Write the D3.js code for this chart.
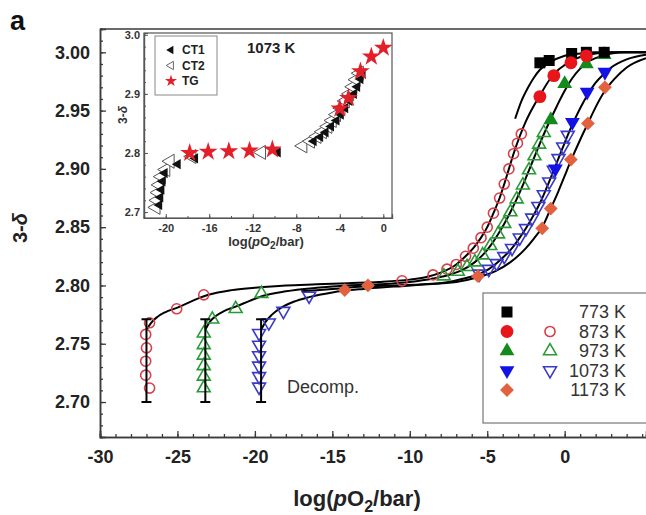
<!DOCTYPE html>
<html><head><meta charset="utf-8">
<script src="https://cdn.jsdelivr.net/npm/d3@7"></script>
<style>body{margin:0;background:#fff}svg{display:block}text{font-family:"Liberation Sans",Arial,sans-serif}</style>
</head><body><svg id="c" width="646" height="515"></svg>
<script>
// ---------- tick labels ----------
const xTicks = [-30,-25,-20,-15,-10,-5,0];
const yTicks = [2.70,2.75,2.80,2.85,2.90,2.95,3.00];
const insetXTicks = [-20,-16,-12,-8,-4,0];
const insetYTicks = [2.7,2.8,2.9,3.0];
const legendLabels = ["773 K","873 K","973 K","1073 K","1173 K"];

// ---------- main data ----------
// 773 K filled squares
const sq773X = [-1.6,-1.0,0.45,1.4,2.55];
const sq773Y = [2.991,2.993,2.999,3.000,3.000];
// 873 K filled circles
const c873FX = [-1.6,-0.7,0.4,1.4];
const c873FY = [2.962,2.980,2.991,2.997];
// 873 K open circles
const c873OX = [-26.8,-27.05,-27.0,-27.05,-27.05,-26.8,-25.05,-23.3,-10.5,-8.5,-7.6,-7.0,-6.4,-5.9,-5.4,-5.0,-4.6,-4.2,-3.9,-3.6,-3.3,-3.05,-2.8];
const c873OY = [2.768,2.758,2.7465,2.735,2.723,2.712,2.780,2.792,2.804,2.809,2.814,2.818,2.825,2.832,2.841,2.850,2.862,2.875,2.887,2.900,2.913,2.922,2.930];
// 973 K filled triangles
const t973FX = [-0.9,0.0,1.4,2.55];
const t973FY = [2.942,2.973,2.990,2.998];
// 973 K open triangles
const t973OX = [-23.3,-23.3,-23.3,-23.3,-23.3,-23.3,-22.75,-21.24,-19.58,-7.8,-6.9,-6.3,-5.8,-5.3,-4.8,-4.3,-3.9,-3.5,-3.1,-2.7,-2.3,-1.95,-1.65,-1.35];
const t973OY = [2.759,2.749,2.740,2.731,2.722,2.712,2.771,2.780,2.793,2.808,2.812,2.816,2.820,2.826,2.834,2.844,2.853,2.863,2.874,2.886,2.899,2.911,2.921,2.931];
// 1073 K filled down-triangles
const t1073FX = [-0.6,0.5,1.45,2.6];
const t1073FY = [2.900,2.940,2.966,2.983];
// 1073 K open down-triangles
const t1073OX = [-19.73,-19.73,-19.73,-19.73,-19.73,-19.73,-19.1,-18.16,-16.5,-5.5,-4.9,-4.4,-3.9,-3.4,-2.9,-2.5,-2.1,-1.7,-1.35,-1.0,-0.7,-0.4,-0.1,0.2];
const t1073OY = [2.759,2.749,2.740,2.731,2.722,2.713,2.768,2.778,2.791,2.810,2.814,2.819,2.825,2.832,2.841,2.849,2.858,2.868,2.878,2.889,2.899,2.909,2.919,2.929];
// 1173 K diamonds
const d1173X = [-14.2,-12.7,-5.6,-1.45,-0.9,0.4,1.5,2.6];
const d1173Y = [2.796,2.800,2.808,2.849,2.866,2.908,2.939,2.970];

// fitted curves
const curve773X = [-3.2,-2.8,-2.4,-2.0,-1.6,-1.0,0,1,2,5.25];
const curve773Y = [2.943,2.958,2.969,2.978,2.985,2.991,2.997,2.999,3.0,3.0];
const curve873X = [-27.0,-26.7,-26.3,-25.8,-25.0,-24.0,-23.0,-21.5,-20,-18,-16,-14,-12,-10,-9,-8,-7,-6.4,-5.9,-5.4,-5.0,-4.6,-4.2,-3.9,-3.6,-3.3,-2.9,-2.5,-2.0,-1.6,-1.0,-0.5,0,0.5,1,1.5,2,3,5.25];
const curve873Y = [2.762,2.768,2.773,2.777,2.781,2.787,2.792,2.796,2.798,2.800,2.801,2.802,2.803,2.805,2.807,2.811,2.818,2.825,2.832,2.841,2.850,2.862,2.875,2.887,2.900,2.913,2.928,2.941,2.954,2.963,2.976,2.984,2.989,2.993,2.996,2.998,2.999,3.0,3.0];
const curve973X = [-23.2,-22.9,-22.5,-22,-21.2,-20.3,-19.5,-18,-16,-14,-12,-10,-8.5,-7.5,-6.5,-5.8,-5.3,-4.8,-4.3,-3.9,-3.5,-3.1,-2.7,-2.3,-1.9,-1.5,-1.0,-0.5,0,0.5,1,1.5,2,3,4,5.25];
const curve973Y = [2.762,2.769,2.774,2.778,2.782,2.787,2.791,2.795,2.798,2.800,2.801,2.803,2.806,2.809,2.814,2.820,2.826,2.834,2.844,2.853,2.863,2.874,2.886,2.899,2.912,2.925,2.940,2.954,2.967,2.978,2.986,2.992,2.995,2.999,3.0,3.0];
const curve1073X = [-19.6,-19.3,-18.9,-18.3,-17.5,-16.5,-15,-13,-11,-9,-7.5,-6.5,-5.5,-4.9,-4.4,-3.9,-3.4,-2.9,-2.5,-2.1,-1.7,-1.35,-1.0,-0.7,-0.4,-0.1,0.2,0.6,1.0,1.5,2.0,2.5,3.0,4.0,5.25];
const curve1073Y = [2.762,2.769,2.775,2.781,2.786,2.790,2.794,2.797,2.799,2.801,2.803,2.806,2.810,2.814,2.819,2.825,2.832,2.841,2.849,2.858,2.868,2.878,2.889,2.899,2.909,2.919,2.929,2.941,2.952,2.964,2.974,2.981,2.987,2.994,2.998];
const curve1173X = [-17,-15,-13,-11,-9,-7,-5.6,-4.5,-3.5,-2.5,-2.0,-1.45,-0.9,-0.4,0.0,0.4,1.0,1.5,2.0,2.6,3.2,4.0,5.25];
const curve1173Y = [2.795,2.797,2.799,2.800,2.801,2.803,2.807,2.812,2.820,2.832,2.840,2.850,2.866,2.881,2.894,2.907,2.925,2.939,2.953,2.967,2.977,2.987,2.995];

// error bars (decomposition)
const errX = [-27.0,-23.2,-19.6];
const errLo = [2.700,2.700,2.700];
const errHi = [2.771,2.771,2.771];

// ---------- inset data (1073 K) ----------
const tgX = [-17.8,-16.1,-14.2,-12.3,-10.2,-4.0,-3.2,-2.1,-1.1,0.0];
const tgY = [2.800,2.802,2.803,2.804,2.806,2.875,2.893,2.938,2.963,2.978];
const ct1X = [-20.6,-20.5,-20.4,-20.3,-20.1,-18.9,-17.3,-9.7,-6.4,-5.8,-5.3,-4.8,-4.3,-3.9,-3.5,-3.1,-2.7,-2.4,-2.1,-1.9];
const ct1Y = [2.712,2.725,2.738,2.752,2.766,2.781,2.791,2.801,2.820,2.827,2.835,2.845,2.855,2.865,2.876,2.888,2.900,2.912,2.925,2.935];
const ct2X = [-20.9,-20.8,-20.7,-20.6,-20.4,-20.0,-19.6,-17.6,-11.2,-7.4,-6.7,-6.1,-5.6,-5.1,-4.7,-4.3,-3.9,-3.5,-3.1,-2.8,-2.5,-2.2];
const ct2Y = [2.708,2.720,2.733,2.746,2.760,2.772,2.786,2.794,2.801,2.812,2.820,2.828,2.836,2.845,2.855,2.865,2.876,2.888,2.900,2.912,2.924,2.935];

// ---------- drawing ----------
const svg = d3.select("#c");
const AX = "#3a3a3a";
const x = d3.scaleLinear().domain([-30, 5.25]).range([100, 646]);
const y = d3.scaleLinear().domain([2.67, 3.02]).range([437, 29]);

const zip = (a, b) => a.map((v, i) => [v, b[i]]);

// frame top line & left axis
svg.append("line").attr("x1", x(-30)).attr("x2", 646).attr("y1", y(3.02)).attr("y2", y(3.02))
  .attr("stroke", AX).attr("stroke-width", 1.5);

// axes
function styleAxis(g) {
  g.select(".domain").attr("stroke", AX).attr("stroke-width", 1.5);
  g.selectAll(".tick line").attr("stroke", AX).attr("stroke-width", 1.3);
}
const gxMinor = svg.append("g").attr("transform", `translate(0,${y(2.67)})`)
  .call(d3.axisBottom(x).tickValues(d3.range(-30, 6, 1)).tickSize(-3).tickFormat(""));
styleAxis(gxMinor);
const gx = svg.append("g").attr("transform", `translate(0,${y(2.67)})`)
  .call(d3.axisBottom(x).tickValues(xTicks).tickSize(-6).tickPadding(13).tickFormat(d => String(d)));
styleAxis(gx);
gx.selectAll("text").attr("font-size", 18).attr("font-weight", "bold").attr("fill", "#222")
  .attr("font-family", "Liberation Sans, Arial, sans-serif");

const gyMinor = svg.append("g").attr("transform", `translate(${x(-30)},0)`)
  .call(d3.axisLeft(y).tickValues(d3.range(2.67, 3.021, 0.01)).tickSize(-3).tickFormat(""));
styleAxis(gyMinor);
const gy = svg.append("g").attr("transform", `translate(${x(-30)},0)`)
  .call(d3.axisLeft(y).tickValues(yTicks).tickSize(-6).tickPadding(10).tickFormat(d3.format(".2f")));
styleAxis(gy);
gy.selectAll("text").attr("font-size", 18).attr("font-weight", "bold").attr("fill", "#222")
  .attr("font-family", "Liberation Sans, Arial, sans-serif");

// titles
svg.append("text").attr("x", 10).attr("y", 30).attr("font-size", 27).attr("font-weight", "bold").attr("fill", "#111").text("a");
const yt = svg.append("text").attr("transform", "translate(27,228) rotate(-90)").attr("text-anchor", "middle")
  .attr("font-size", 20).attr("font-weight", "bold").attr("fill", "#222");
yt.append("tspan").text("3-");
yt.append("tspan").attr("font-style", "italic").text("δ");
const xt = svg.append("text").attr("x", 357).attr("y", 506).attr("text-anchor", "middle")
  .attr("font-size", 22).attr("font-weight", "bold").attr("fill", "#222");
xt.append("tspan").text("log(");
xt.append("tspan").attr("font-style", "italic").text("p");
xt.append("tspan").text("O");
xt.append("tspan").attr("font-size", 16).attr("dy", 6).text("2");
xt.append("tspan").attr("dy", -6).text("/bar)");

// curves
const line = d3.line().x(d => x(d[0])).y(d => y(d[1])).curve(d3.curveMonotoneX);
[[curve773X, curve773Y], [curve873X, curve873Y], [curve973X, curve973Y], [curve1073X, curve1073Y], [curve1173X, curve1173Y]]
  .forEach(([cx, cy]) => {
    svg.append("path").datum(zip(cx, cy)).attr("d", line).attr("fill", "none")
      .attr("stroke", "#000").attr("stroke-width", 2);
  });

// markers
const COL = {
  red: "#e8161b", redO: "#d8404a", green: "#128a1c", greenO: "#2a9a38",
  blue: "#1212e6", blueO: "#3a3ac8", orange: "#e2613f"
};
function marks(xs, ys, type, size, rot, fill, stroke, sw) {
  const sym = d3.symbol().type(type).size(size);
  svg.append("g").selectAll("path").data(zip(xs, ys)).join("path")
    .attr("d", sym)
    .attr("transform", d => `translate(${x(d[0])},${y(d[1])}) rotate(${rot})`)
    .attr("fill", fill).attr("stroke", stroke).attr("stroke-width", sw);
}
marks(c873OX, c873OY, d3.symbolCircle, 80, 0, "none", COL.redO, 1.6);
marks(t973OX, t973OY, d3.symbolTriangle, 72, 0, "none", COL.greenO, 1.6);
marks(t1073OX, t1073OY, d3.symbolTriangle, 72, 180, "none", COL.blueO, 1.6);
marks(d1173X, d1173Y, d3.symbolSquare, 95, 45, COL.orange, "none", 0);
marks(t1073FX, t1073FY, d3.symbolTriangle, 95, 180, COL.blue, "none", 0);
marks(t973FX, t973FY, d3.symbolTriangle, 95, 0, COL.green, "none", 0);
marks(sq773X, sq773Y, d3.symbolSquare, 121, 0, "#000", "none", 0);
marks(c873FX, c873FY, d3.symbolCircle, 130, 0, COL.red, "none", 0);

// error bars
errX.forEach((ex, i) => {
  const g = svg.append("g").attr("stroke", "#000").attr("stroke-width", 2);
  g.append("line").attr("x1", x(ex)).attr("x2", x(ex)).attr("y1", y(errLo[i])).attr("y2", y(errHi[i]));
  g.append("line").attr("x1", x(ex) - 5).attr("x2", x(ex) + 5).attr("y1", y(errLo[i])).attr("y2", y(errLo[i]));
  g.append("line").attr("x1", x(ex) - 5).attr("x2", x(ex) + 5).attr("y1", y(errHi[i])).attr("y2", y(errHi[i]));
});

svg.append("text").attr("x", 287).attr("y", 393).attr("font-size", 18).attr("fill", "#333").text("Decomp.");

// legend
const lg = svg.append("g");
lg.append("rect").attr("x", 483).attr("y", 293).attr("width", 170).attr("height", 130)
  .attr("fill", "#fff").attr("stroke", "#777").attr("stroke-width", 1.2);
const legFilled = [
  [d3.symbolSquare, 121, 0, "#000"], [d3.symbolCircle, 130, 0, COL.red], [d3.symbolTriangle, 95, 0, COL.green],
  [d3.symbolTriangle, 95, 180, COL.blue], [d3.symbolSquare, 95, 45, COL.orange]
];
const legOpen = [null, [d3.symbolCircle, 80, 0, COL.redO], [d3.symbolTriangle, 72, 0, COL.greenO], [d3.symbolTriangle, 72, 180, COL.blueO], null];
legendLabels.forEach((lab, i) => {
  const ly = 312 + i * 19.5;
  const f = legFilled[i];
  lg.append("path").attr("d", d3.symbol().type(f[0]).size(f[1])).attr("transform", `translate(507,${ly}) rotate(${f[2]})`).attr("fill", f[3]);
  const o = legOpen[i];
  if (o) lg.append("path").attr("d", d3.symbol().type(o[0]).size(o[1])).attr("transform", `translate(550,${ly}) rotate(${o[2]})`)
    .attr("fill", "none").attr("stroke", o[3]).attr("stroke-width", 1.6);
  lg.append("text").attr("x", 626).attr("y", ly).attr("dy", "0.36em").attr("text-anchor", "end")
    .attr("font-size", 18).attr("fill", "#333").text(lab);
});

// ---------- inset ----------
const xi = d3.scaleLinear().domain([-22, 0.8]).range([144, 392]);
const yi = d3.scaleLinear().domain([2.69, 3.003]).range([218, 33]);
const ins = svg.append("g");
ins.append("rect").attr("x", 144).attr("y", 33).attr("width", 248).attr("height", 185)
  .attr("fill", "#fff").attr("stroke", "#555").attr("stroke-width", 1.2);
function styleInset(g) {
  g.select(".domain").attr("stroke", "#555").attr("stroke-width", 1.2);
  g.selectAll(".tick line").attr("stroke", "#555").attr("stroke-width", 1);
  g.selectAll("text").attr("font-size", 11).attr("font-weight", "bold").attr("fill", "#333")
    .attr("font-family", "Liberation Sans, Arial, sans-serif");
}
styleInset(ins.append("g").attr("transform", "translate(0,218)")
  .call(d3.axisBottom(xi).tickValues(d3.range(-22, 1, 2)).tickSize(-2).tickFormat("")));
styleInset(ins.append("g").attr("transform", "translate(0,218)")
  .call(d3.axisBottom(xi).tickValues(insetXTicks).tickSize(-4).tickPadding(6).tickFormat(d => String(d))));
styleInset(ins.append("g").attr("transform", "translate(144,0)")
  .call(d3.axisLeft(yi).tickValues(d3.range(2.7, 3.001, 0.02)).tickSize(-2).tickFormat("")));
styleInset(ins.append("g").attr("transform", "translate(144,0)")
  .call(d3.axisLeft(yi).tickValues(insetYTicks).tickSize(-4).tickPadding(4).tickFormat(d3.format(".1f"))));

const ixt = ins.append("text").attr("x", 266).attr("y", 246).attr("text-anchor", "middle")
  .attr("font-size", 13).attr("font-weight", "bold").attr("fill", "#333");
ixt.append("tspan").text("log(");
ixt.append("tspan").attr("font-style", "italic").text("p");
ixt.append("tspan").text("O");
ixt.append("tspan").attr("font-size", 10).attr("dy", 3).text("2");
ixt.append("tspan").attr("dy", -3).text("/bar)");
const iyt = ins.append("text").attr("transform", "translate(127,115) rotate(-90)").attr("text-anchor", "middle")
  .attr("font-size", 12).attr("font-weight", "bold").attr("fill", "#333");
iyt.append("tspan").text("3-");
iyt.append("tspan").attr("font-style", "italic").text("δ");

function imarks(xs, ys, type, size, rot, fill, stroke, sw) {
  const sym = d3.symbol().type(type).size(size);
  ins.append("g").selectAll("path").data(zip(xs, ys)).join("path")
    .attr("d", sym)
    .attr("transform", d => `translate(${xi(d[0])},${yi(d[1])}) rotate(${rot})`)
    .attr("fill", fill).attr("stroke", stroke).attr("stroke-width", sw);
}
imarks(ct2X, ct2Y, d3.symbolTriangle, 85, -90, "#fff", "#555", 1);
imarks(ct1X, ct1Y, d3.symbolTriangle, 45, -90, "#111", "none", 0);
imarks(tgX, tgY, d3.symbolStar, 110, 0, "#e3202a", "none", 0);

// inset legend
ins.append("rect").attr("x", 155).attr("y", 36).attr("width", 62).attr("height", 59)
  .attr("fill", "#fff").attr("stroke", "#888").attr("stroke-width", 1);
const iLeg = [["CT1", d3.symbolTriangle, 30, "#111", "none"], ["CT2", d3.symbolTriangle, 30, "#fff", "#666"], ["TG", d3.symbolStar, 45, "#e3202a", "none"]];
iLeg.forEach((it, i) => {
  const ly = 50 + i * 15.5;
  ins.append("path").attr("d", d3.symbol().type(it[1]).size(it[2]))
    .attr("transform", `translate(171,${ly}) rotate(${it[1] === d3.symbolTriangle ? -90 : 0})`)
    .attr("fill", it[3]).attr("stroke", it[4]).attr("stroke-width", 1);
  ins.append("text").attr("x", 182).attr("y", ly).attr("dy", "0.36em").attr("font-size", 12)
    .attr("font-weight", "bold").attr("fill", "#222").text(it[0]);
});
ins.append("text").attr("x", 247).attr("y", 53).attr("font-size", 15).attr("font-weight", "bold").attr("fill", "#222").text("1073 K");
</script></body></html>
